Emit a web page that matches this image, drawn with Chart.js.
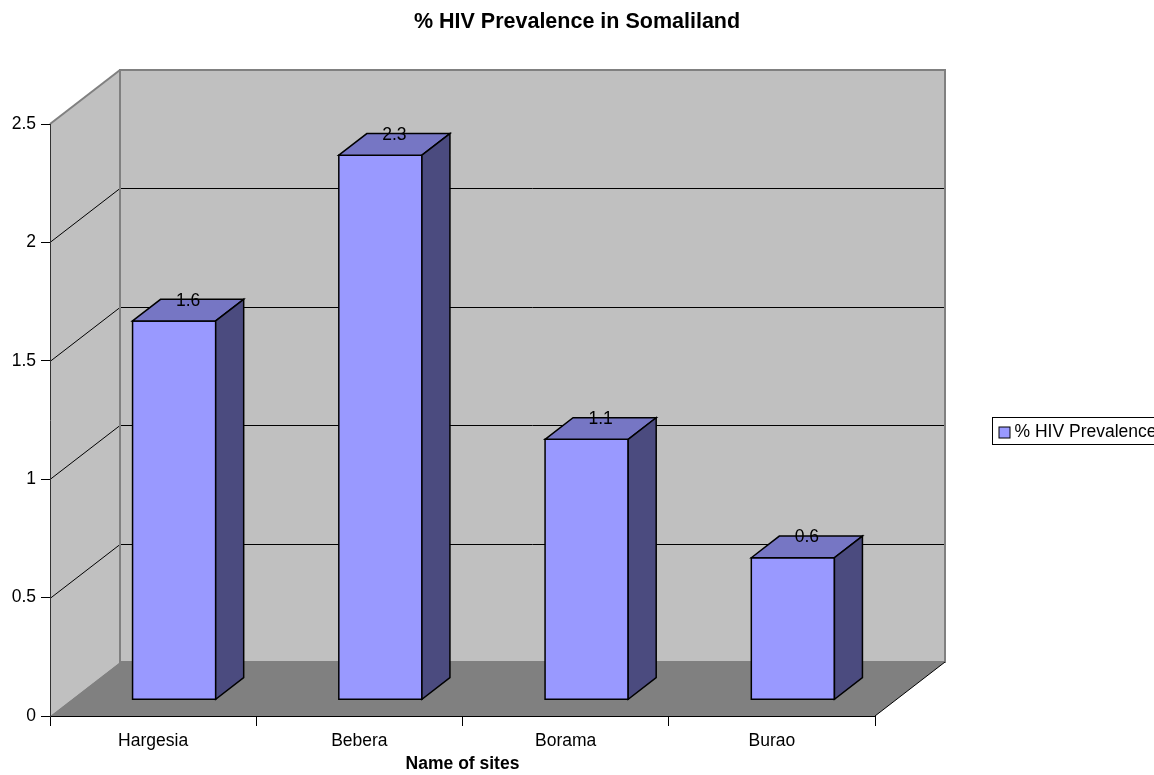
<!DOCTYPE html>
<html>
<head>
<meta charset="utf-8">
<script src="https://cdn.jsdelivr.net/npm/chart.js@4.4.0/dist/chart.umd.min.js"></script>
<style>
html,body{margin:0;padding:0;background:#fff;overflow:hidden}
#wrap{width:1154px;height:775px;position:relative}
</style>
</head>
<body>
<div id="wrap"><canvas id="c"></canvas></div>
<script>
const sites = ['Hargesia', 'Bebera', 'Borama', 'Burao'];
const prevalence = [1.6, 2.3, 1.1, 0.6];
const seriesName = '% HIV Prevalence';
const yTicks = [0, 0.5, 1, 1.5, 2, 2.5];

const FONT = "'Liberation Sans', Arial, sans-serif";
const DX = 70, DY = -54;          // full depth of the 3d box
const F0 = 0.3, F1 = 0.7;         // bars sit between these depth fractions
const faceColor = '#9999ff', topColor = '#7676c4', sideColor = '#4b4b7f';

function poly(ctx, pts, fill, stroke, lw) {
  ctx.beginPath();
  ctx.moveTo(pts[0][0], pts[0][1]);
  for (let i = 1; i < pts.length; i++) ctx.lineTo(pts[i][0], pts[i][1]);
  ctx.closePath();
  if (fill) { ctx.fillStyle = fill; ctx.fill(); }
  if (stroke) { ctx.strokeStyle = stroke; ctx.lineWidth = lw || 1; ctx.stroke(); }
}

const box3d = {
  id: 'box3d',
  beforeDraw(chart) {
    const ctx = chart.ctx;
    const {left, right, top, bottom} = chart.chartArea;
    const ys = chart.scales.y;
    ctx.save();
    // back wall + left wall
    ctx.fillStyle = '#c0c0c0';
    ctx.fillRect(left + DX, top + DY, right - left, bottom - top);
    poly(ctx, [[left, bottom], [left, top], [left + DX, top + DY], [left + DX, bottom + DY]], '#c0c0c0');
    // gridlines
    ctx.strokeStyle = '#000';
    ctx.lineWidth = 1;
    yTicks.forEach(v => {
      if (v === yTicks[0] || v === yTicks[yTicks.length - 1]) return;
      const y = Math.round(ys.getPixelForValue(v)) + 0.5;
      ctx.beginPath();
      ctx.moveTo(left + DX, y + DY);
      ctx.lineTo(right + DX, y + DY);
      ctx.moveTo(left, y);
      ctx.lineTo(left + DX, y + DY);
      ctx.stroke();
    });
    // wall edges
    ctx.strokeStyle = '#808080';
    ctx.lineWidth = 2;
    ctx.strokeRect(left + DX, top + DY, right - left, bottom - top);
    ctx.beginPath();
    ctx.moveTo(left, top);
    ctx.lineTo(left + DX, top + DY);
    ctx.stroke();
    // floor
    poly(ctx, [[left, bottom], [right, bottom], [right + DX, bottom + DY], [left + DX, bottom + DY]], '#808080');
    ctx.strokeStyle = '#000';
    ctx.lineWidth = 1;
    ctx.beginPath();
    ctx.moveTo(right, bottom);
    ctx.lineTo(right + DX, bottom + DY);
    ctx.stroke();
    ctx.restore();
  },
  afterDatasetsDraw(chart) {
    const ctx = chart.ctx;
    const meta = chart.getDatasetMeta(0);
    const bx = DX * (F1 - F0), by = DY * (F1 - F0);
    ctx.save();
    ctx.lineJoin = 'miter';
    meta.data.forEach((bar, i) => {
      const p = bar.getProps(['x', 'y', 'base', 'width'], true);
      const x0 = p.x - p.width / 2 + DX * F0, x1 = p.x + p.width / 2 + DX * F0;
      const yt = p.y + DY * F0, yb = p.base + DY * F0;
      poly(ctx, [[x0, yb], [x0, yt], [x1, yt], [x1, yb]], faceColor, '#000', 1.5);
      poly(ctx, [[x0, yt], [x0 + bx, yt + by], [x1 + bx, yt + by], [x1, yt]], topColor, '#000', 1.5);
      poly(ctx, [[x1, yb], [x1, yt], [x1 + bx, yt + by], [x1 + bx, yb + by]], sideColor, '#000', 1.5);
      ctx.fillStyle = '#000';
      ctx.font = '17.5px ' + FONT;
      ctx.textAlign = 'center';
      ctx.textBaseline = 'middle';
      ctx.fillText(String(prevalence[i]), p.x + DX * 0.5, p.y + DY * F1 + 1.5);
    });
    ctx.restore();
  },
  afterDraw(chart) {
    const ctx = chart.ctx;
    const {right, top, bottom} = chart.chartArea;
    const lx = Math.round(right + 117) + 0.5;
    const ly = Math.round((top + bottom) / 2 - 3) + 0.5;
    ctx.save();
    ctx.fillStyle = '#fff';
    ctx.fillRect(lx, ly, 220, 27);
    ctx.strokeStyle = '#000';
    ctx.lineWidth = 1;
    ctx.strokeRect(lx, ly, 220, 27);
    ctx.fillStyle = faceColor;
    ctx.fillRect(lx + 6.5, ly + 9.5, 11, 11);
    ctx.strokeRect(lx + 6.5, ly + 9.5, 11, 11);
    ctx.fillStyle = '#000';
    ctx.font = '17.5px ' + FONT;
    ctx.textAlign = 'left';
    ctx.textBaseline = 'middle';
    ctx.fillText(chart.data.datasets[0].label, lx + 22, ly + 14.5);
    ctx.restore();
  }
};

new Chart(document.getElementById('c'), {
  type: 'bar',
  data: {
    labels: sites,
    datasets: [{
      label: seriesName,
      data: prevalence,
      backgroundColor: 'rgba(0,0,0,0)',
      borderWidth: 0,
      categoryPercentage: 1,
      barPercentage: 0.403
    }]
  },
  options: {
    responsive: true,
    maintainAspectRatio: false,
    devicePixelRatio: 1,
    animation: false,
    layout: { padding: 0 },
    plugins: {
      legend: { display: false },
      tooltip: { enabled: false },
      title: {
        display: true,
        text: '% HIV Prevalence in Somaliland',
        color: '#000',
        font: { family: FONT, size: 21.5, weight: 'bold' },
        padding: { top: 9, bottom: 89.2 }
      }
    },
    scales: {
      x: {
        afterFit: s => { s.height = 59; },
        grid: { display: true, drawOnChartArea: false, offset: true, tickLength: 10, color: '#000', lineWidth: 1 },
        border: { display: true, color: '#000', lineWidth: 1 },
        ticks: { color: '#000', font: { family: FONT, size: 17.5 }, padding: 5 },
        title: {
          display: true, text: 'Name of sites', color: '#000',
          font: { family: FONT, size: 17.5, weight: 'bold' },
          padding: { top: 0, bottom: 0.5 }
        }
      },
      y: {
        min: 0,
        max: 2.5,
        afterFit: s => { s.width = 50; },
        afterBuildTicks: s => { s.ticks = yTicks.map(v => ({ value: v })); },
        grid: { display: true, drawOnChartArea: false, tickLength: 9, color: '#000', lineWidth: 1 },
        border: { display: true, color: '#333', lineWidth: 1.5 },
        ticks: { color: '#000', font: { family: FONT, size: 17.5 }, padding: 5, callback: v => String(v) }
      },
      side: {
        // empty right-hand box that leaves room for the depth and the legend
        type: 'linear',
        position: 'right',
        afterFit: s => { s.width = 279; },
        grid: { display: false },
        border: { display: false },
        ticks: { display: false }
      }
    }
  },
  plugins: [box3d]
});
</script>
</body>
</html>
